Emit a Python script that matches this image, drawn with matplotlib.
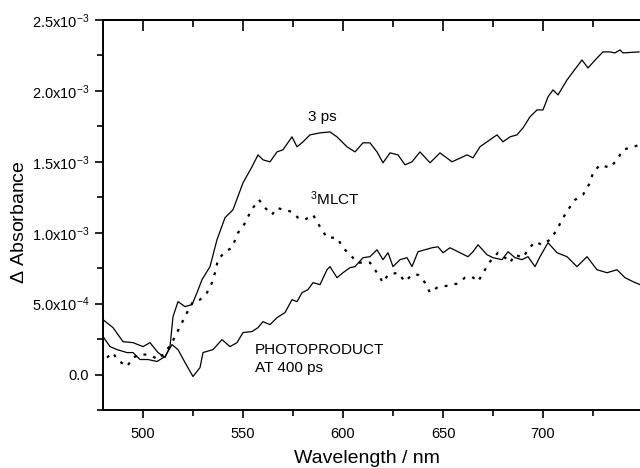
import numpy as np
import matplotlib
matplotlib.use("Agg")
import matplotlib.pyplot as plt
from matplotlib.ticker import MultipleLocator, FixedLocator, FixedFormatter

plt.rcParams['font.family'] = ['Liberation Sans', 'DejaVu Sans']
plt.rcParams['mathtext.default'] = 'regular'

# transient spectra, values in units of 1e-3
wl_3ps = [480, 485, 490, 495, 500, 503.5, 507.5, 511, 513.5, 515, 517.5, 521, 524.5, 527,
          529.5, 533.5, 537, 541, 545, 550, 554.5, 557.5, 560, 563.5, 567, 570, 574.5, 577,
          580, 583.5, 588.5, 593.5, 597, 602, 606, 610, 613.5, 617, 620, 623.5, 627.5, 631,
          634.5, 638.5, 643.5, 648.5, 654.5, 662, 665, 668.5, 672, 677, 680, 683.5, 687, 690,
          693.5, 697, 700, 702.5, 705, 707.5, 712, 715, 719.5, 722.5, 727, 730, 733.5, 736,
          738.5, 740, 748]
abs_3ps = [0.387, 0.331, 0.232, 0.225, 0.197, 0.225, 0.155, 0.120, 0.197, 0.408, 0.514, 0.479,
           0.493, 0.577, 0.669, 0.761, 0.951, 1.106, 1.162, 1.352, 1.465, 1.549, 1.514, 1.500,
           1.570, 1.585, 1.676, 1.606, 1.641, 1.690, 1.704, 1.711, 1.676, 1.606, 1.570, 1.634,
           1.634, 1.570, 1.493, 1.563, 1.549, 1.479, 1.500, 1.570, 1.493, 1.563, 1.500, 1.549,
           1.528, 1.606, 1.641, 1.690, 1.641, 1.676, 1.690, 1.739, 1.817, 1.866, 1.866, 1.958,
           2.007, 1.972, 2.077, 2.134, 2.218, 2.162, 2.232, 2.275, 2.275, 2.268, 2.289, 2.268,
           2.275]

wl_mlct = [482, 485, 487, 492, 495, 498.5, 502, 505, 507.5, 511, 514.5, 517, 519.5, 522, 525,
           528.5, 532, 534.5, 536, 537.5, 541, 544.5, 547.5, 550, 552.5, 555, 558, 561, 564.5,
           567, 570, 574.5, 577.5, 581, 585, 588.5, 592, 597, 600, 604.5, 607, 613.5, 617, 620,
           622.5, 627.5, 631, 634.5, 637.5, 641, 643.5, 647, 649.5, 652.5, 657, 661, 664.5,
           667.5, 671, 673.5, 677.5, 681, 683.5, 686, 690, 692.5, 696, 699.5, 703.5, 707, 709.5,
           712.5, 716, 720, 723.5, 725, 728.5, 733.5, 737, 740, 745, 748.5]
abs_mlct = [0.120, 0.155, 0.106, 0.056, 0.120, 0.141, 0.141, 0.127, 0.106, 0.155, 0.225, 0.296,
            0.366, 0.437, 0.514, 0.528, 0.577, 0.648, 0.718, 0.810, 0.866, 0.894, 1.000, 1.042,
            1.113, 1.176, 1.232, 1.176, 1.127, 1.176, 1.162, 1.148, 1.106, 1.092, 1.127, 1.042,
            0.965, 0.965, 0.894, 0.831, 0.789, 0.789, 0.718, 0.648, 0.704, 0.718, 0.655, 0.704,
            0.704, 0.648, 0.577, 0.613, 0.620, 0.627, 0.641, 0.683, 0.690, 0.655, 0.739, 0.796,
            0.859, 0.824, 0.789, 0.845, 0.824, 0.880, 0.937, 0.915, 0.951, 1.021, 1.092, 1.162,
            1.232, 1.268, 1.352, 1.423, 1.479, 1.458, 1.514, 1.585, 1.606, 1.620]

wl_photo = [480, 483.5, 487, 492, 495, 498.5, 502.5, 507, 511, 514.5, 517.5, 521, 525, 528.5,
            530, 535, 539.5, 543.5, 547, 550, 554.5, 557.5, 560, 563.5, 567, 571, 574.5, 577,
            579.5, 582.5, 585, 588.5, 592, 593.5, 597, 600, 603.5, 606, 610, 613.5, 617, 620,
            622.5, 625, 628.5, 632, 634.5, 637.5, 641, 644.5, 647.5, 650, 653.5, 658.5, 662.5,
            665, 667.5, 672, 675, 679.5, 682.5, 686, 689.5, 692.5, 696, 698.5, 702.5, 707, 712,
            717, 722, 727, 732, 737, 741, 745, 748.5]
abs_photo = [0.268, 0.197, 0.176, 0.155, 0.155, 0.106, 0.106, 0.092, 0.127, 0.211, 0.176, 0.085,
             -0.014, 0.049, 0.155, 0.176, 0.246, 0.197, 0.225, 0.296, 0.303, 0.331, 0.373, 0.352,
             0.401, 0.437, 0.528, 0.514, 0.577, 0.599, 0.648, 0.634, 0.739, 0.761, 0.683, 0.718,
             0.754, 0.761, 0.824, 0.831, 0.880, 0.810, 0.859, 0.761, 0.810, 0.824, 0.761, 0.866,
             0.880, 0.894, 0.901, 0.859, 0.894, 0.859, 0.831, 0.866, 0.915, 0.845, 0.824, 0.810,
             0.866, 0.824, 0.810, 0.831, 0.761, 0.831, 0.930, 0.859, 0.831, 0.761, 0.831, 0.739,
             0.718, 0.739, 0.683, 0.655, 0.634]

ytick_vals = [0.0, 5e-4, 1e-3, 1.5e-3, 2e-3, 2.5e-3]
ytick_labels = ['0.0', r'5.0x10$^{-4}$', r'1.0x10$^{-3}$', r'1.5x10$^{-3}$',
                r'2.0x10$^{-3}$', r'2.5x10$^{-3}$']

fig = plt.figure(figsize=(6.4, 4.68), dpi=100)
# right spine falls just outside the figure, as in the cropped original
ax = fig.add_axes([103 / 640, 58 / 468, 539 / 640, 390 / 468])

ax.plot(wl_3ps, np.array(abs_3ps) * 1e-3, color='black', lw=0.9)
ax.plot(wl_photo, np.array(abs_photo) * 1e-3, color='black', lw=0.9)
ax.plot(wl_mlct, np.array(abs_mlct) * 1e-3, color='black', lw=1.6, linestyle=(0, (1.3, 3.2)))

ax.set_xlim(480, 749.5)
ax.set_ylim(-2.5e-4, 2.5e-3)

ax.xaxis.set_major_locator(MultipleLocator(50))
ax.xaxis.set_minor_locator(MultipleLocator(25))
ax.yaxis.set_major_locator(FixedLocator(ytick_vals))
ax.yaxis.set_major_formatter(FixedFormatter(ytick_labels))
ax.yaxis.set_minor_locator(MultipleLocator(2.5e-4))

ax.tick_params(axis='both', which='major', direction='out', length=6, width=1.2,
               labelsize=10.5, pad=4)
ax.tick_params(axis='both', which='minor', direction='out', length=4, width=1.2)
ax.tick_params(axis='x', which='major', pad=6)
for s in ['top', 'bottom', 'left']:
    ax.spines[s].set_linewidth(1.4)
ax.spines['right'].set_visible(False)

# ticks on the top spine point inward
top = ax.secondary_xaxis('top')
top.xaxis.set_major_locator(MultipleLocator(50))
top.xaxis.set_minor_locator(MultipleLocator(25))
top.tick_params(which='major', direction='in', length=8, width=1.2, labeltop=False)
top.tick_params(which='minor', direction='in', length=5, width=1.2)
top.spines['top'].set_linewidth(1.4)

ax.set_xlabel('Wavelength / nm', fontsize=14, va='top')
ax.xaxis.set_label_coords((367 - 103) / 539, (410 - 450) / 390)
ax.set_ylabel(r'$\Delta$ Absorbance', fontsize=14, va='center')
ax.yaxis.set_label_coords((20 - 103) / 539, (410 - 222) / 390)

ax.text(589.5, 1.817e-3, '3 ps', fontsize=11, ha='center', va='center')
ax.text(596, 1.239e-3, r'$^{3}$MLCT', fontsize=11, ha='center', va='center')
ax.text(556, 0.11e-3, 'PHOTOPRODUCT\nAT 400 ps', fontsize=11, ha='left', va='center',
        linespacing=1.3)

fig.savefig('out.png', dpi=100)
